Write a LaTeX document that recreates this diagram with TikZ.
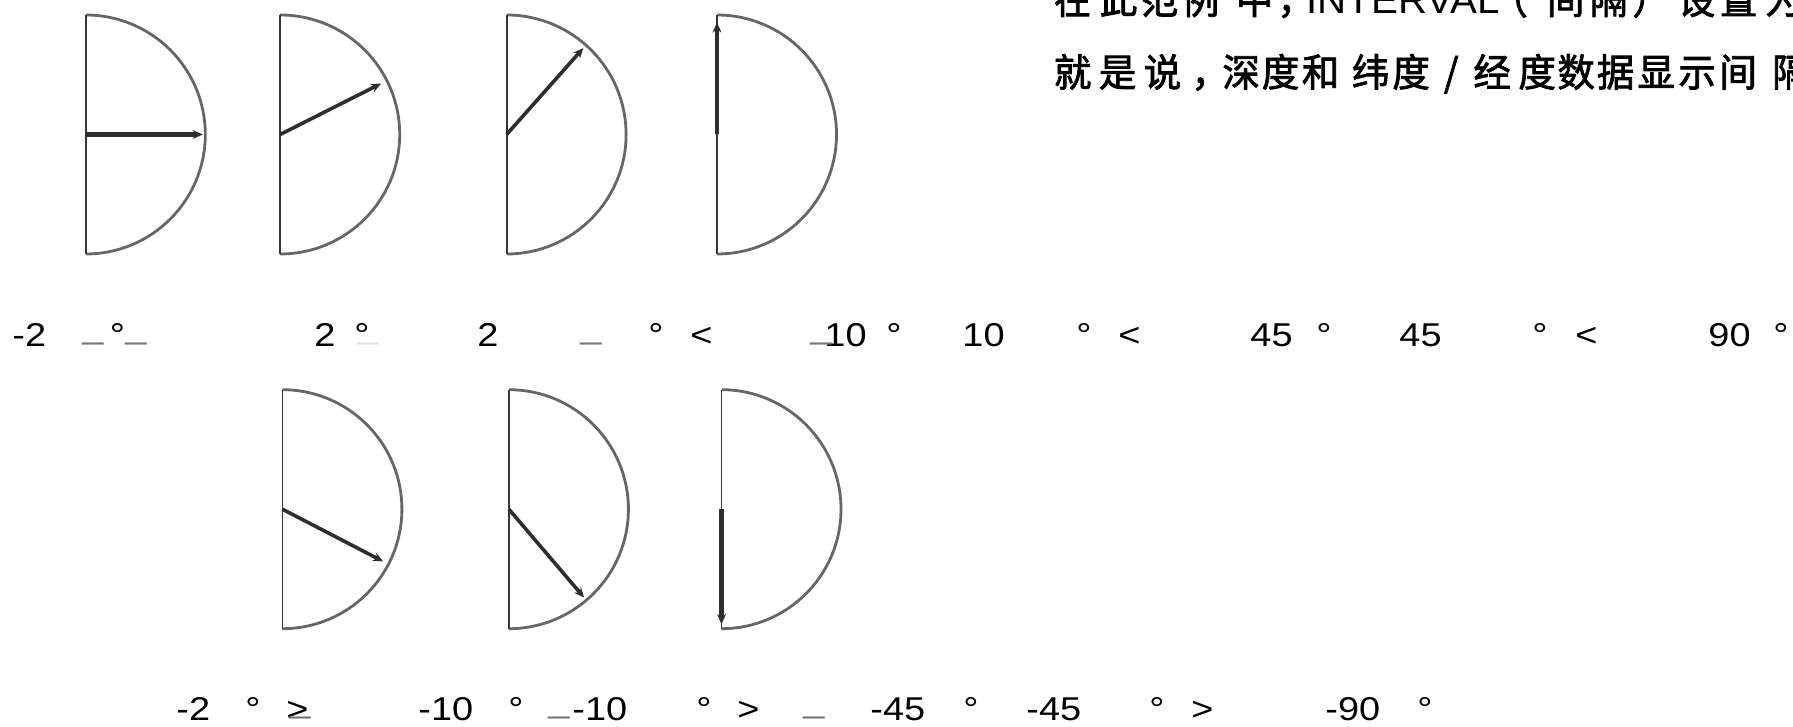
\documentclass[tikz,border=0pt]{standalone}
\usepackage{fontspec}
\usepackage{graphicx}
\setmainfont{Liberation Sans}
\newfontfamily\lblfont{Liberation Sans}[FakeStretch=1.15]
\newfontfamily\cjkfont{Noto Sans CJK SC}[FakeStretch=0.97,FakeBold=2]
\newfontfamily\latfont{Liberation Sans}[FakeStretch=1.06]
\usetikzlibrary{arrows.meta}
\begin{document}
\begin{tikzpicture}[x=0.5pt,y=0.5pt,
  rim/.style={draw=black!60, line width=1.4pt},
  axisline/.style={draw=black!78, line width=0.9pt},
  dirarrow/.style={draw=black!82, line width=1.8pt, -{Stealth[length=5pt,width=4.4pt]}},
  lbl/.style={anchor=base west, inner sep=0pt, text=black, font=\lblfont\fontsize{16.5}{20}\selectfont},
  ulbar/.style={lbl, text=black!55},
  faintbar/.style={lbl, text=black!10},
  zh/.style={anchor=base west, inner sep=0pt, text=black, font=\cjkfont\fontsize{19.3}{22}\selectfont},
  zhlat/.style={anchor=base west, inner sep=0pt, text=black, font=\latfont\fontsize{19}{22}\selectfont}
]
\useasboundingbox (0,0) rectangle (1793,727);
\clip (0,0) rectangle (1793,727);

% semicircles with direction arrows
\foreach \i/\x/\y/\ang/\len/\w in {1/85.8/592.5/0/117/2.1, 2/280.2/592.5/26.8/113/1.8, 3/506.6/592.5/48.4/115.5/1.8, 4/717/592.5/90/112/2.1,
                                5/282.4/217.8/-27.4/113.4/1.8, 6/508.9/217.8/-49.6/116/1.8, 7/721.5/217.8/-90/115/2.1}{
  \coordinate (c\i) at (\x,\y);
  \coordinate (top\i) at (\x,\y+119.5);
  \coordinate (bot\i) at (\x,\y-119.5);
  \coordinate (tip\i) at ([shift={(\ang:\len)}]c\i);
  \draw[rim] (top\i) arc[start angle=90, end angle=-90, radius=59.75pt];
  \draw[axisline] (top\i) -- (bot\i);
  \draw[dirarrow, line width=\w pt] (c\i) -- (tip\i);
}

% row 1 labels
\foreach \n/\x/\t in {1/12/-2, 2/109.5/°, 3/314/2, 4/354/°, 5/477/2, 6/648/°, 7/690/<, 8/824/10, 9/886/°, 10/962/10,
                      11/1076/°, 12/1118/<, 13/1250/45, 14/1316/°, 15/1399/45, 16/1532/°, 17/1575/<, 18/1708/90, 19/1773/°}
  \node[lbl] (ra\n) at (\x,380) {\t};
\foreach \n/\x in {1/82, 2/125, 3/580, 4/810}
  \node[ulbar] (ua\n) at (\x,388) {\_};
\node[faintbar] (ua5) at (357,388) {\_};

% row 2 labels
\foreach \n/\x/\t in {1/176/-2, 2/245/°, 3/286/>, 4/418/-10, 5/508/°, 6/572/-10, 7/696/°, 8/737/>, 9/870/-45,
                      10/963/°, 11/1026/-45, 12/1149/°, 13/1191/>, 14/1325/-90, 15/1417/°}
  \node[lbl] (rb\n) at (\x,6) {\t};
\foreach \n/\x in {1/289, 2/548, 3/803}
  \node[ulbar] (ub\n) at (\x,14) {\_};

% Chinese text, line 1 (cut at the top)
\foreach \n/\x/\c in {1/1053.5/在, 2/1099.5/此, 3/1140.5/范, 4/1181.5/例, 5/1235.5/中, 6/1277/，, 8/1490/（, 9/1546.5/间,
                      10/1589.5/隔, 11/1632/）, 12/1677.5/设, 13/1719.5/置, 14/1764.5/为}
  \node[zh] (za\n) at (\x,713) {\c};
\node[zhlat] (za7) at (1306,713) {INTERVAL};

% Chinese text, line 2
\foreach \n/\x/\c in {1/1053.5/就, 2/1098.5/是, 3/1143.5/说, 4/1191/，, 5/1222/深, 6/1261.5/度, 7/1301.5/和, 8/1351.5/纬, 9/1392/度,
                      11/1473/经, 12/1518/度, 13/1557/数, 14/1596.5/据, 15/1637/显, 16/1678/示, 17/1719/间, 18/1772/隔}
  \node[zh] (zb\n) at (\x,640.4) {\c};
\node[zh] (zb10) at (1443.5,640.4) {/};
\end{tikzpicture}
\end{document}
